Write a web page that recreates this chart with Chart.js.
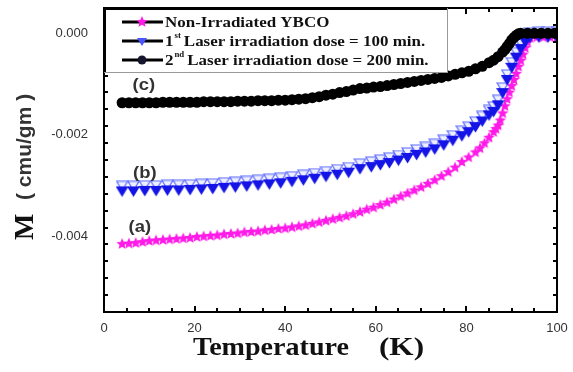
<!DOCTYPE html>
<html>
<head>
<meta charset="utf-8">
<script src="https://cdn.jsdelivr.net/npm/chart.js@4.4.0/dist/chart.umd.min.js"></script>
<style>
  html, body { margin: 0; padding: 0; background: #fff; }
  #wrap { width: 573px; height: 372px; }
</style>
</head>
<body>
<div id="wrap"><canvas id="mvtChart"></canvas></div>
<script>
// ------------------- DATA -------------------
// (a) non-irradiated YBCO, M in cmu/gm
const pinkT = [4, 5.5, 7, 8.5, 10, 11.5, 13, 14.5, 16, 17.5, 19, 20.5, 22, 23.5, 25, 26.5, 28, 29.5, 31, 32.5,
  34, 35.5, 37, 38.5, 40, 41.5, 43, 44.5, 46, 47.5, 49, 50.5, 52, 53.5, 55, 56.5, 58, 59.5, 61, 62.5,
  64, 65.5, 67, 68.5, 70, 71.5, 73, 74.5, 76, 77.5, 79, 80.5, 82, 83, 84, 85, 86, 86.5, 87, 87.5,
  88, 88.5, 89, 89.5, 90, 90.5, 91, 91.5, 92, 92.5, 93, 93.5, 94, 95.5, 97, 98.5, 100];
const pinkM = [-0.00416, -0.00415, -0.00414, -0.00412, -0.00410, -0.00409, -0.00408, -0.00407, -0.00406, -0.00405,
  -0.00404, -0.00402, -0.00401, -0.00400, -0.00399, -0.00397, -0.00396, -0.00395, -0.00393, -0.00392,
  -0.00391, -0.00389, -0.00388, -0.00386, -0.00385, -0.00383, -0.00381, -0.00379, -0.00376, -0.00373,
  -0.00370, -0.00367, -0.00364, -0.00361, -0.00357, -0.00353, -0.00348, -0.00344, -0.00339, -0.00334,
  -0.00328, -0.00322, -0.00316, -0.00310, -0.00304, -0.00297, -0.00290, -0.00282, -0.00274, -0.00265,
  -0.00254, -0.00245, -0.00235, -0.00227, -0.00217, -0.00206, -0.00195, -0.00189, -0.00182, -0.00172,
  -0.00158, -0.00144, -0.00130, -0.00117, -0.00104, -0.00092, -0.00080, -0.00066, -0.00054, -0.00042,
  -0.00029, -0.00018, -0.00009, -0.00008, -0.00008, -0.00008, -0.00008];

// (b) 1st laser irradiation, 100 min
const blueT = [4, 6.5, 9, 11.5, 14, 16.5, 19, 21.5, 24, 26.5, 29, 31.5, 34, 36.5, 39, 41.5, 44, 46.5, 49, 51.5,
  54, 56.5, 59, 61, 63, 65, 67, 69, 71, 73, 75, 77, 79, 80.5, 82, 83.5, 85, 86, 87, 88,
  89, 90, 91, 92, 93, 94, 96, 98, 100];
const blueM = [-0.00312, -0.00312, -0.00311, -0.00311, -0.00310, -0.00310, -0.00309, -0.00308, -0.00307, -0.00305,
  -0.00304, -0.00302, -0.00300, -0.00298, -0.00296, -0.00293, -0.00290, -0.00287, -0.00283, -0.00279,
  -0.00275, -0.00268, -0.00264, -0.00260, -0.00256, -0.00251, -0.00246, -0.00240, -0.00235, -0.00229,
  -0.00221, -0.00212, -0.00203, -0.00195, -0.00185, -0.00174, -0.00162, -0.00155, -0.00142, -0.00118,
  -0.00092, -0.00068, -0.00048, -0.00031, -0.00017, -0.00009, -0.00008, -0.00008, -0.00008];

// (c) 2nd laser irradiation, 200 min
const blackT = [4, 5.5, 7, 8.5, 10, 11.5, 13, 14.5, 16, 17.5, 19, 20.5, 22, 23.5, 25, 26.5, 28, 29.5, 31, 32.5,
  34, 35.5, 37, 38.5, 40, 41.5, 43, 44.5, 46, 47.5, 49, 50.5, 52, 53.5, 55, 56.5, 58, 59.5, 61, 62.5,
  64, 65.5, 67, 68.5, 70, 71.5, 73, 74.5, 76, 77.5, 79, 80.5, 82, 83.5, 85, 86, 87, 88, 88.5, 89,
  89.5, 90, 90.5, 91, 91.5, 92, 93.5, 95, 96.5, 98, 99.5];
const blackM = [-0.00137, -0.00137, -0.00137, -0.00137, -0.00137, -0.00137, -0.00136, -0.00136, -0.00136, -0.00136,
  -0.00136, -0.00136, -0.00135, -0.00135, -0.00135, -0.00135, -0.00135, -0.00134, -0.00134, -0.00134,
  -0.00133, -0.00133, -0.00133, -0.00132, -0.00132, -0.00131, -0.00130, -0.00129, -0.00127, -0.00125,
  -0.00122, -0.00120, -0.00117, -0.00115, -0.00112, -0.00109, -0.00108, -0.00106, -0.00105, -0.00103,
  -0.00101, -0.00099, -0.00097, -0.00095, -0.00093, -0.00091, -0.00089, -0.00087, -0.00084, -0.00081,
  -0.00078, -0.00075, -0.00070, -0.00065, -0.00058, -0.00053, -0.00046, -0.00037, -0.00032, -0.00026,
  -0.00020, -0.00013, -0.00008, -0.00004, -0.00001, 0, 0, 0, 0, 0, 0];

const xTicks = [0, 20, 40, 60, 80, 100];
const yTicks = [-0.004, -0.002, 0];

const seriesNames = ["Non-Irradiated YBCO", "Laser irradiation dose = 100 min.", "Laser irradiation dose = 200 min."];
const seriesPrefix = ["", "1", "2"];
const seriesSup = ["", "st", "nd"];

// curve labels, placed in data units
const curveTags = [
  { text: "(a)", x: 7.9, y: -0.00384 },
  { text: "(b)", x: 9.0, y: -0.00276 },
  { text: "(c)", x: 8.8, y: -0.00103 }
];

// ------------------- MARKERS -------------------
const PINK = "#ff1ae8";
const BLUE = "#1414e6";

function starImage(r, fill) {
  const c = document.createElement("canvas");
  c.width = c.height = 2 * r + 2;
  const g = c.getContext("2d");
  g.translate(r + 1, r + 1);
  g.beginPath();
  for (let i = 0; i < 10; i++) {
    const a = -Math.PI / 2 + i * Math.PI / 5;
    const rr = i % 2 ? r * 0.45 : r;
    g.lineTo(rr * Math.cos(a), rr * Math.sin(a));
  }
  g.closePath();
  g.fillStyle = fill;
  g.fill();
  return c;
}

// filled down-triangle with the pale open outline sitting above it
function triImage() {
  const c = document.createElement("canvas");
  c.width = 13; c.height = 22;
  const g = c.getContext("2d");
  g.beginPath();
  g.moveTo(1, 1); g.lineTo(12, 1); g.lineTo(6.5, 10); g.closePath();
  g.fillStyle = "#eef0ff"; g.fill();
  g.strokeStyle = "#5a68ff"; g.lineWidth = 1.2; g.stroke();
  g.beginPath();
  g.moveTo(0, 6); g.lineTo(13, 6); g.lineTo(6.5, 16.5); g.closePath();
  g.fillStyle = BLUE; g.fill();
  return c;
}

const starPt = starImage(6, PINK);
const triPt = triImage();

// ------------------- DRAW HELPERS -------------------
function stretchText(ctx, text, x, y, font, sx) {
  ctx.save();
  ctx.font = font;
  ctx.translate(x, y);
  ctx.scale(sx, 1);
  ctx.fillText(text, 0, 0);
  const w = ctx.measureText(text).width * sx;
  ctx.restore();
  return w;
}

const decorPlugin = {
  id: "decor",
  afterDraw(chart) {
    const { ctx, chartArea: a, scales } = chart;
    const xs = scales.x, ys = scales.y;
    ctx.save();

    // inward tick marks on all four sides
    ctx.strokeStyle = "#000";
    ctx.lineWidth = 2;
    ctx.beginPath();
    for (let v = 5; v < 100; v += 5) {
      const px = Math.round(xs.getPixelForValue(v));
      const len = v % 20 === 0 ? 6 : 4;
      ctx.moveTo(px, a.bottom); ctx.lineTo(px, a.bottom - len);
      ctx.moveTo(px, a.top); ctx.lineTo(px, a.top + len);
    }
    const step = 0.002 / 6;
    for (let k = 1; k < 18; k++) {
      const v = -0.0055 + k * step;
      const py = Math.round(ys.getPixelForValue(v));
      const major = Math.abs(v / 0.002 - Math.round(v / 0.002)) < 1e-6;
      const len = major ? 7 : 4;
      ctx.moveTo(a.left, py); ctx.lineTo(a.left + len, py);
      ctx.moveTo(a.right, py); ctx.lineTo(a.right - len, py);
    }
    ctx.stroke();

    // frame
    ctx.lineWidth = 2;
    ctx.strokeRect(a.left, a.top, a.right - a.left, a.bottom - a.top);

    // legend box
    const bx = a.left, by = a.top, bw = 343, bh = 64;
    ctx.fillStyle = "#fff";
    ctx.fillRect(bx + 1, by + 1, bw, bh);
    ctx.strokeStyle = "#999";
    ctx.lineWidth = 1;
    ctx.strokeRect(bx + 0.5, by + 0.5, bw, bh);
    ctx.strokeStyle = "#000";
    ctx.lineWidth = 2;
    ctx.beginPath();
    ctx.moveTo(bx, by + 1); ctx.lineTo(bx + bw, by + 1);
    ctx.moveTo(bx + 1, by); ctx.lineTo(bx + 1, by + bh);
    ctx.stroke();

    const rowY = [by + 14, by + 33, by + 52];
    const serif = "'Liberation Serif', 'DejaVu Serif', serif";
    for (let i = 0; i < 3; i++) {
      const y = rowY[i];
      ctx.strokeStyle = "#000";
      ctx.lineWidth = 3;
      ctx.beginPath();
      ctx.moveTo(bx + 18, y); ctx.lineTo(bx + 59, y);
      ctx.stroke();
      const mx = bx + 38;
      if (i === 0) {
        ctx.drawImage(starPt, mx - starPt.width / 2, y - starPt.height / 2);
      } else if (i === 1) {
        ctx.fillStyle = "#4a55ff";
        ctx.beginPath();
        ctx.moveTo(mx - 5, y - 3); ctx.lineTo(mx + 5, y - 3); ctx.lineTo(mx, y + 5); ctx.closePath();
        ctx.fill();
      } else {
        ctx.fillStyle = "#15152e";
        ctx.beginPath(); ctx.arc(mx, y, 4.5, 0, Math.PI * 2); ctx.fill();
      }
      ctx.fillStyle = "#111";
      ctx.textBaseline = "middle";
      ctx.textAlign = "left";
      let tx = bx + 61;
      if (seriesPrefix[i]) {
        tx += stretchText(ctx, seriesPrefix[i], tx, y + 1, "bold 15px " + serif, 1.13);
        tx += stretchText(ctx, seriesSup[i], tx + 1, y - 5, "bold 8px " + serif, 1.1) + 4;
      }
      stretchText(ctx, seriesNames[i], tx, y + 1, "bold 15px " + serif, 1.13);
    }

    // (a) (b) (c)
    ctx.fillStyle = "#333";
    ctx.textAlign = "center";
    ctx.textBaseline = "middle";
    curveTags.forEach(t => {
      const px = xs.getPixelForValue(t.x), py = ys.getPixelForValue(t.y);
      ctx.save();
      ctx.translate(px, py);
      ctx.scale(1.15, 1);
      ctx.font = "bold 16px 'Liberation Sans', Arial, sans-serif";
      ctx.fillText(t.text, 0, 0);
      ctx.restore();
    });

    // axis titles
    ctx.fillStyle = "#111";
    ctx.textAlign = "left";
    ctx.textBaseline = "alphabetic";
    const t1 = stretchText(ctx, "Temperature", 193, 355, "bold 26px " + serif, 1.08);
    stretchText(ctx, "(K)", 193 + t1 + 30, 355, "bold 26px " + serif, 1.2);

    ctx.save();
    ctx.translate(33, 240);
    ctx.rotate(-Math.PI / 2);
    ctx.textBaseline = "alphabetic";
    ctx.font = "bold 28px " + serif;
    ctx.fillText("M", 0, 0);
    ctx.fillStyle = "#333";
    ctx.font = "bold 21px 'Liberation Sans', Arial, sans-serif";
    ctx.fillText("( cmu/gm )", 40, -2);
    ctx.restore();

    ctx.restore();
  }
};

// ------------------- CHART -------------------
const toPoints = (xs, ys) => xs.map((x, i) => ({ x: x, y: ys[i] }));
const tickFont = { family: "'Liberation Sans', Arial, sans-serif", size: 13 };

new Chart(document.getElementById("mvtChart"), {
  type: "scatter",
  data: {
    datasets: [
      {
        label: "2nd " + seriesNames[2],
        data: toPoints(blackT, blackM),
        pointStyle: "circle",
        pointRadius: 5.5,
        backgroundColor: "#000",
        borderWidth: 0,
        order: 0
      },
      {
        label: "1st " + seriesNames[1],
        data: toPoints(blueT, blueM),
        pointStyle: triPt,
        order: 1
      },
      {
        label: seriesNames[0],
        data: toPoints(pinkT, pinkM),
        pointStyle: starPt,
        order: 2
      }
    ]
  },
  options: {
    responsive: true,
    maintainAspectRatio: false,
    animation: false,
    layout: { padding: { top: 8, right: 16, left: 0, bottom: 0 } },
    scales: {
      x: {
        type: "linear",
        min: 0,
        max: 100,
        afterBuildTicks: s => { s.ticks = xTicks.map(v => ({ value: v })); },
        afterFit: s => { s.height = 60; s.paddingLeft = 0; s.paddingRight = 0; },
        grid: { display: false, drawTicks: false },
        border: { display: false },
        ticks: { padding: 9, color: "#333", font: tickFont, maxRotation: 0, autoSkip: false }
      },
      y: {
        type: "linear",
        min: -0.0055,
        max: 0.0005,
        afterBuildTicks: s => { s.ticks = yTicks.map(v => ({ value: v })); },
        afterFit: s => { s.width = 104; s.paddingTop = 0; s.paddingBottom = 0; },
        grid: { display: false, drawTicks: false },
        border: { display: false },
        ticks: {
          padding: 16,
          color: "#333",
          font: tickFont,
          callback: v => v.toFixed(3)
        }
      }
    },
    plugins: {
      legend: { display: false },
      tooltip: { enabled: false }
    }
  },
  plugins: [decorPlugin]
});
</script>
</body>
</html>
